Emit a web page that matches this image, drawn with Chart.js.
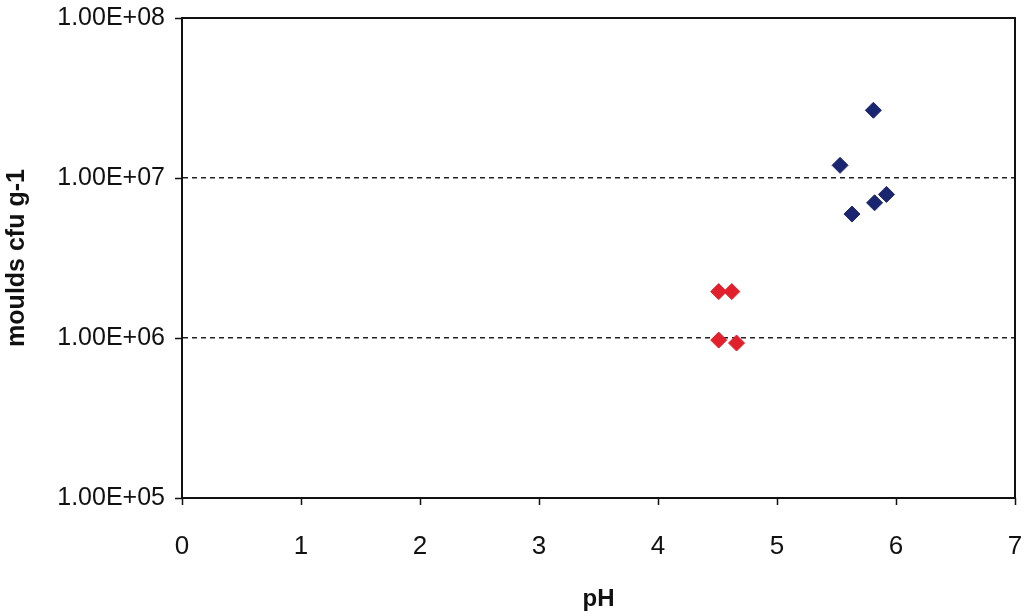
<!DOCTYPE html>
<html>
<head>
<meta charset="utf-8">
<script src="https://cdn.jsdelivr.net/npm/chart.js@4/dist/chart.umd.min.js"></script>
<style>
  html, body { margin: 0; padding: 0; background: #fff; }
  #wrap { width: 1027px; height: 616px; }
</style>
</head>
<body>
<div id="wrap"><canvas id="chart" width="1027" height="616"></canvas></div>
<script>
// values
const bluePH = [5.81, 5.53, 5.63, 5.82, 5.92];
const blueMoulds = [2.65e7, 1.2e7, 5.95e6, 7.0e6, 7.9e6];

const redPH = [4.51, 4.62, 4.51, 4.66];
const redMoulds = [1.95e6, 1.95e6, 9.7e5, 9.3e5];

const yTicks = [1e5, 1e6, 1e7, 1e8];
const yTickLabels = ['1.00E+05', '1.00E+06', '1.00E+07', '1.00E+08'];
const dashedLines = [1e6, 1e7];

function toPoints(xs, ys) {
    return xs.map((x, i) => ({ x: x, y: ys[i] }));
}

// box round the plot area + short outside tick marks
const frame = {
    id: 'frame',
    afterDraw(chart) {
        const a = chart.chartArea;
        const ctx = chart.ctx;
        const xs = chart.scales.x, ys = chart.scales.y;
        ctx.save();
        ctx.strokeStyle = '#111';
        ctx.lineWidth = 1.5;
        ctx.beginPath();
        xs.ticks.forEach(t => {
            const px = Math.round(xs.getPixelForValue(t.value)) + 0.5;
            ctx.moveTo(px, a.bottom);
            ctx.lineTo(px, a.bottom + 7);
        });
        ys.ticks.forEach(t => {
            const py = Math.round(ys.getPixelForValue(t.value)) + 0.5;
            ctx.moveTo(a.left - 7, py);
            ctx.lineTo(a.left, py);
        });
        ctx.stroke();
        ctx.lineWidth = 2;
        ctx.strokeRect(a.left, a.top, a.right - a.left, a.bottom - a.top);
        ctx.restore();
    }
};

Chart.defaults.font.family = '"Liberation Sans", Arial, sans-serif';
Chart.defaults.color = '#111';

new Chart(document.getElementById('chart'), {
    type: 'scatter',
    data: {
        datasets: [
            {
                data: toPoints(bluePH, blueMoulds),
                pointStyle: 'rectRot',
                pointRadius: 8,
                borderWidth: 1,
                backgroundColor: '#1b2670',
                borderColor: '#1b2670'
            },
            {
                data: toPoints(redPH, redMoulds),
                pointStyle: 'rectRot',
                pointRadius: 8,
                borderWidth: 1,
                backgroundColor: '#e0202c',
                borderColor: '#e0202c'
            }
        ]
    },
    options: {
        responsive: false,
        animation: false,
        layout: { padding: { top: 18, right: 12, left: 0, bottom: 0 } },
        plugins: {
            legend: { display: false },
            tooltip: { enabled: false }
        },
        scales: {
            x: {
                type: 'linear',
                min: 0,
                max: 7,
                afterFit(s) { s.height = 118; },
                ticks: {
                    stepSize: 1,
                    padding: 0,
                    font: { size: 26 },
                    color: '#111'
                },
                grid: {
                    drawOnChartArea: false,
                    tickLength: 33,
                    tickColor: 'rgba(0,0,0,0)'
                },
                border: { color: '#111', width: 2 },
                title: {
                    display: true,
                    text: 'pH',
                    font: { size: 24, weight: 'bold' },
                    color: '#111',
                    padding: { top: 0, bottom: 2 }
                }
            },
            y: {
                type: 'logarithmic',
                min: 1e5,
                max: 1e8,
                afterFit(s) { s.width = 182; },
                afterBuildTicks(s) {
                    s.ticks = yTicks.map(v => ({ value: v }));
                },
                ticks: {
                    padding: 0,
                    font: { size: 25 },
                    color: '#111',
                    callback: (v) => yTickLabels[yTicks.indexOf(v)]
                },
                grid: {
                    color: (c) => (c.tick && dashedLines.includes(c.tick.value)) ? '#222' : 'rgba(0,0,0,0)',
                    lineWidth: 1.4,
                    tickLength: 17,
                    tickColor: 'rgba(0,0,0,0)',
                    tickBorderDash: []
                },
                border: { color: '#111', width: 2, dash: [5, 4] },
                title: {
                    display: true,
                    text: 'moulds cfu g-1',
                    font: { size: 25, weight: 'bold' },
                    color: '#111',
                    padding: { top: 2, bottom: 0 }
                }
            }
        }
    },
    plugins: [frame]
});
</script>
</body>
</html>
